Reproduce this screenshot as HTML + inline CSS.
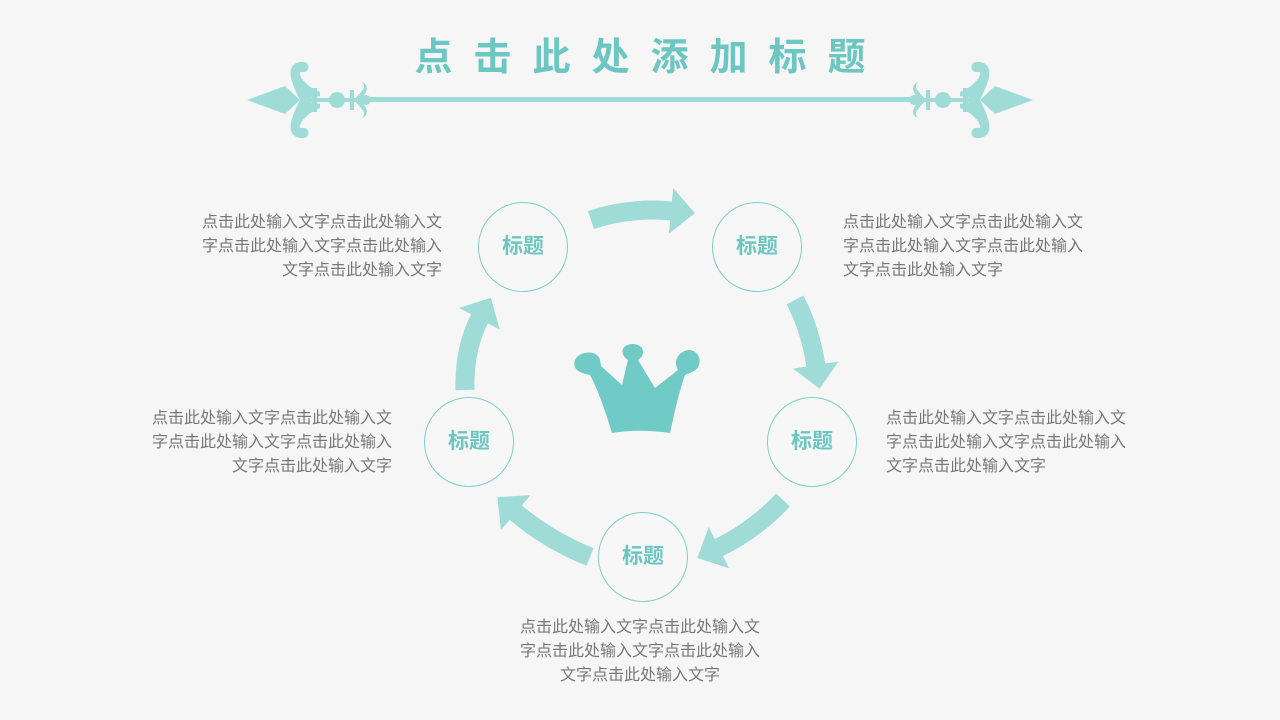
<!DOCTYPE html>
<html><head><meta charset="utf-8"><style>
body{margin:0;width:1280px;height:720px;overflow:hidden;background:#f6f6f6;font-family:"Liberation Sans","Noto Sans CJK SC",sans-serif;position:relative}
.t{position:absolute;font-size:16px;line-height:24px;color:#777;width:242px}
.r{text-align:right}
.c{position:absolute;width:88px;height:88px;border:1px solid #7ecfca;border-radius:50%;color:#6cc7c2;font-weight:bold;font-size:21px;line-height:88px;text-align:center;background:#f7f7f7}
h1{position:absolute;top:30px;left:0;width:1280px;margin:0;text-align:center;font-size:38px;letter-spacing:21px;color:#6cc7c2;font-weight:bold;text-indent:21px;line-height:56px}
</style></head><body>
<svg width="1280" height="720" style="position:absolute;left:0;top:0">
<defs>
<marker id="a" markerUnits="userSpaceOnUse" markerWidth="30" markerHeight="50" refX="1" refY="24" orient="auto"><path d="M0,1 L24,24 L0,47z" fill="#9fdbd7"/></marker>
<g id="orn" fill="#9fdbd7">
<path d="M247,100 L285,86 L300,100 L285,114z"/>
<path d="M300,100 C290,80 285,65 300,62 C312,60 310,74 302,72 C296,70 302,85 320,92 L320,96z"/>
<path d="M300,100 C290,120 285,135 300,138 C312,140 310,126 302,128 C296,130 302,115 320,108 L320,104z"/>
<rect x="312" y="88" width="5" height="24"/>
<circle cx="337" cy="100" r="8"/>
<rect x="350" y="90" width="4" height="20"/>
<path d="M354,100 C360,92 368,88 362,82 C370,84 368,95 358,100z"/>
<path d="M354,100 C360,108 368,112 362,118 C370,116 368,105 358,100z"/>
<circle cx="366" cy="100" r="5"/>
<rect x="300" y="98" width="70" height="4"/>
</g>
</defs>
<rect x="360" y="97" width="560" height="5" fill="#9fdbd7"/>
<use href="#orn"/>
<use href="#orn" transform="translate(1280,0) scale(-1,1)"/>
<g fill="none" stroke="#9fdbd7" stroke-width="19" marker-end="url(#a)">
<path d="M591,220 Q630,207 672,211"/>
<path d="M795,300 Q810,328 816,366"/>
<path d="M783,500 Q755,530 718,548"/>
<path d="M590,557 Q548,540 515,512"/>
<path d="M465,390 Q464,348 480,318"/>
</g>
<path fill="#70cac5" d="M612,433 C605,410 598,390 590,375 C580,373 572,370 575,360 C580,350 598,350 600,360 L601,366 L622,385 L628,360 C620,355 620,345 632,344 C645,344 646,355 638,360 L655,388 L678,370 C672,360 680,350 690,350 C702,352 703,368 692,372 L685,375 C678,395 674,415 670,433 C650,430 630,430 612,433z"/>
</svg>
<h1>点击此处添加标题</h1>
<div class="c" style="left:478px;top:202px">标题</div>
<div class="c" style="left:712px;top:202px">标题</div>
<div class="c" style="left:767px;top:397px">标题</div>
<div class="c" style="left:598px;top:512px">标题</div>
<div class="c" style="left:424px;top:397px">标题</div>
<div class="t r" style="left:200px;top:211px">点击此处输入文字点击此处输入文字点击此处输入文字点击此处输入文字点击此处输入文字</div>
<div class="t" style="left:843px;top:211px">点击此处输入文字点击此处输入文字点击此处输入文字点击此处输入文字点击此处输入文字</div>
<div class="t r" style="left:150px;top:407px">点击此处输入文字点击此处输入文字点击此处输入文字点击此处输入文字点击此处输入文字</div>
<div class="t" style="left:886px;top:407px">点击此处输入文字点击此处输入文字点击此处输入文字点击此处输入文字点击此处输入文字</div>
<div class="t" style="left:519px;top:616px;text-align:center">点击此处输入文字点击此处输入文字点击此处输入文字点击此处输入文字点击此处输入文字</div>
</body></html>
